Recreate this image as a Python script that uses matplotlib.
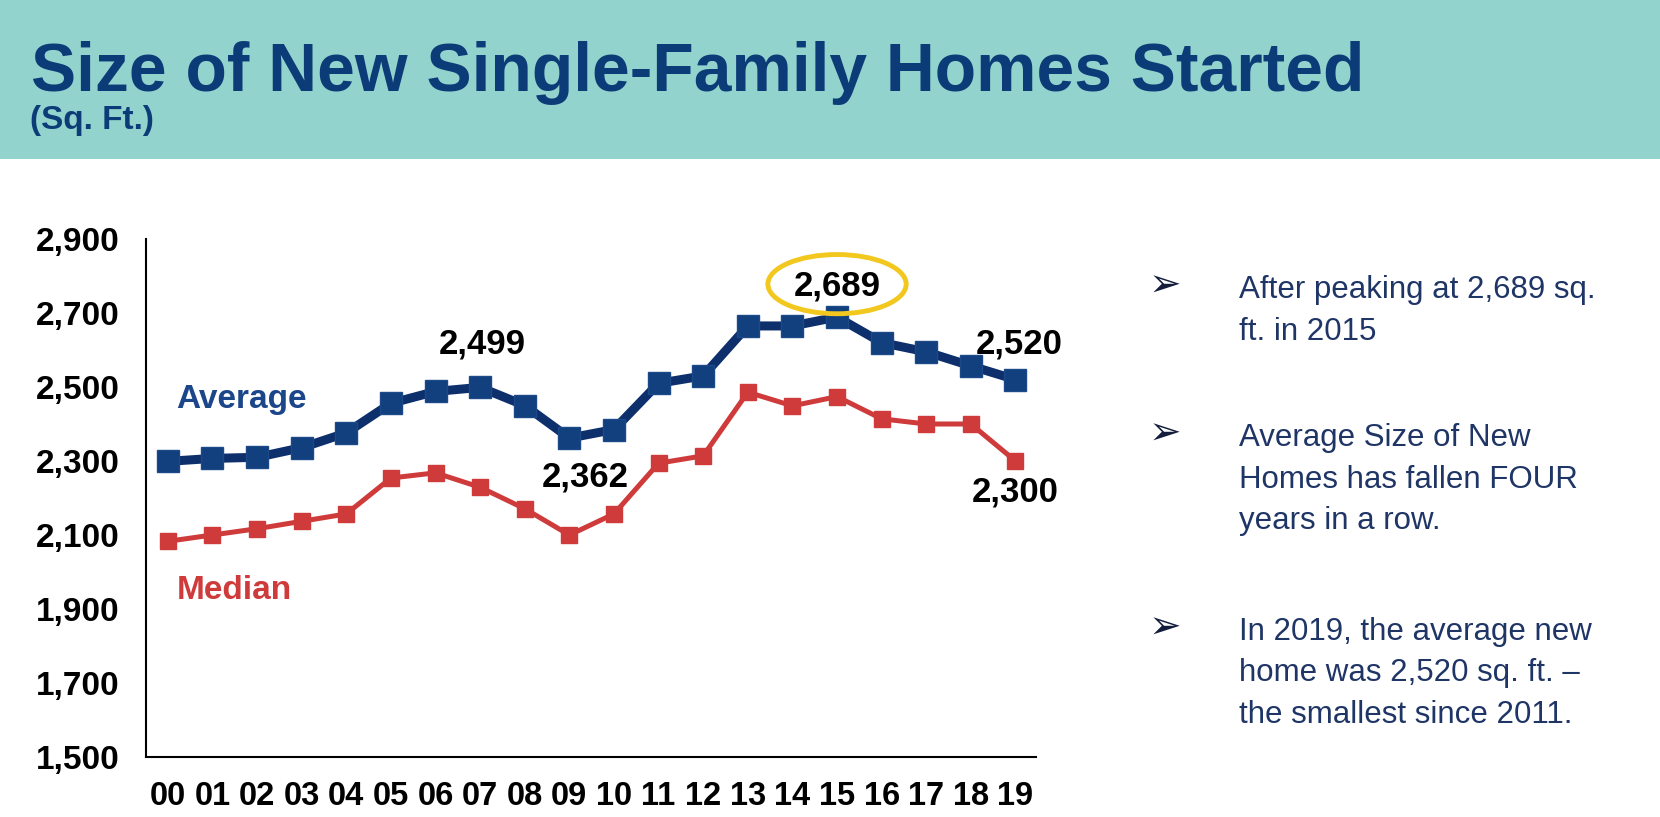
import matplotlib
matplotlib.use("Agg")
import matplotlib.pyplot as plt
from matplotlib.patches import Ellipse, Rectangle

# years 2000-2019 (sq. ft.)
years = ["00", "01", "02", "03", "04", "05", "06", "07", "08", "09",
         "10", "11", "12", "13", "14", "15", "16", "17", "18", "19"]
average = [2299, 2307, 2310, 2336, 2376, 2456, 2488, 2499, 2450, 2362,
           2385, 2510, 2530, 2665, 2665, 2689, 2620, 2595, 2557, 2520]
median = [2083, 2100, 2117, 2137, 2157, 2254, 2268, 2229, 2171, 2100,
          2157, 2294, 2314, 2486, 2449, 2474, 2414, 2400, 2400, 2300]
yticks = [1500, 1700, 1900, 2100, 2300, 2500, 2700, 2900]

title = "Size of New Single-Family Homes Started"
subtitle = "(Sq. Ft.)"
bullets = [
    "After peaking at 2,689 sq.\nft. in 2015",
    "Average Size of New\nHomes has fallen FOUR\nyears in a row.",
    "In 2019, the average new\nhome was 2,520 sq. ft. \u2013\nthe smallest since 2011.",
]

NAVY = "#0d2f6c"
NAVY_MK = "#123f7d"
RED = "#cf3b3b"
TITLE_C = "#0c3c77"
TEAL = "#93d3ce"

plt.rcParams["font.family"] = ["Liberation Sans", "DejaVu Sans"]

W, H = 1660, 817
fig = plt.figure(figsize=(W / 100, H / 100), dpi=100)
fig.patch.set_facecolor("white")

# header band
fig.patches.append(Rectangle((0, 1 - 159 / H), 1, 159 / H, transform=fig.transFigure,
                             facecolor=TEAL, edgecolor="none", zorder=0))
fig.text(31 / W, 1 - 91 / H, title, fontsize=48.8, fontweight="bold", color=TITLE_C,
         va="baseline", ha="left")
fig.text(30 / W, 1 - 129 / H, subtitle, fontsize=24, fontweight="bold", color=TITLE_C,
         va="baseline", ha="left")

ax = fig.add_axes([146 / W, 1 - 757 / H, (1036 - 146) / W, (757 - 239) / H])
x = list(range(len(years)))

ax.plot(x, median, color=RED, lw=3.6, marker="s", ms=12, mfc=RED, mec=RED, zorder=3)
ax.plot(x, average, color=NAVY, lw=6.5, marker="s", ms=15.5, mfc=NAVY_MK, mec="#1c4a88",
        mew=1, zorder=4)

ax.set_xlim(-0.49, 19.46)
ax.set_ylim(1500, 2900)
ax.set_xticks(x)
ax.set_xticklabels(years)
ax.set_yticks(yticks)
ax.set_yticklabels([f"{v:,}" for v in yticks])
ax.tick_params(axis="both", length=0)
ax.tick_params(axis="y", pad=19, labelsize=24)
ax.tick_params(axis="x", pad=17, labelsize=23.5)
for lab in ax.get_xticklabels() + ax.get_yticklabels():
    lab.set_fontweight("bold")
for s in ["top", "right"]:
    ax.spines[s].set_visible(False)
for s in ["left", "bottom"]:
    ax.spines[s].set_linewidth(1.5)
    ax.spines[s].set_color("black")

# series labels
ax.text(1.64, 2465, "Average", color="#1b4689", fontsize=24, fontweight="bold",
        ha="center", va="center")
ax.text(1.5, 1951, "Median", color=RED, fontsize=24, fontweight="bold",
        ha="center", va="center")

# value callouts
callouts = [(7.04, 2616, "2,499"), (9.35, 2257, "2,362"), (15.0, 2773, "2,689"),
            (19.08, 2616, "2,520"), (18.99, 2216, "2,300")]
for cx, cy, t in callouts:
    ax.text(cx, cy, t, fontsize=25, fontweight="bold", color="black",
            ha="center", va="center", clip_on=False, zorder=6)

ax.add_patch(Ellipse((15.0, 2778), 3.1, 160, fill=False, edgecolor="#f2c81e",
                     lw=3.5, clip_on=False, zorder=5))

# bullet points on the right
bullet_y = [286, 434, 628]
for by, txt in zip(bullet_y, bullets):
    fig.text(1165 / W, 1 - by / H, "\u27a2", fontsize=28, color="#141e3c",
             ha="center", va="center", family=["DejaVu Sans"])
    fig.text(1239 / W, 1 - (by - 11) / H, txt, fontsize=22.5, color="#1f3566",
             ha="left", va="top", linespacing=1.5)

fig.savefig("out.png", dpi=100, facecolor=fig.get_facecolor())
